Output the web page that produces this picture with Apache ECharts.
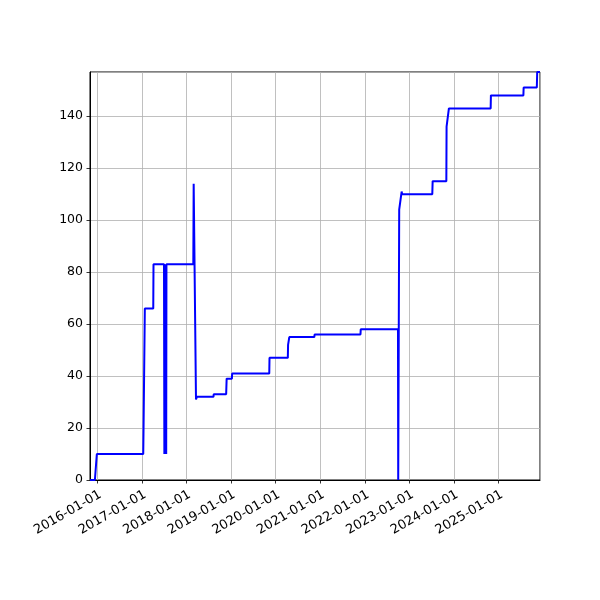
<!DOCTYPE html>
<html>
<head>
<meta charset="utf-8">
<script src="https://cdn.jsdelivr.net/npm/echarts@6/dist/echarts.min.js"></script>
<style>html,body{margin:0;padding:0;background:#fff;}#c{width:600px;height:600px;}</style>
</head>
<body>
<div id="c"></div>
<script>
const dates = [
  '2015-11-03','2015-12-13','2015-12-29',
  '2017-01-12','2017-01-14','2017-01-25',
  '2017-04-04','2017-04-06',
  '2017-07-01','2017-07-04','2017-07-08','2017-07-12','2017-07-16','2017-07-19','2017-07-21',
  '2018-02-26','2018-03-01','2018-03-06','2018-03-20','2018-03-27',
  '2018-08-10','2018-08-12','2018-11-22','2018-11-26',
  '2019-01-08','2019-01-10','2019-11-10','2019-11-12',
  '2020-04-10','2020-04-12','2020-04-22',
  '2020-11-13','2020-11-15','2021-11-26','2021-11-28',
  '2022-09-29','2022-10-01','2022-10-06','2022-10-09','2022-10-25','2022-10-29','2022-11-02',
  '2023-07-07','2023-07-10','2023-10-30','2023-11-01','2023-11-04','2023-11-20',
  '2024-10-27','2024-10-29','2025-07-22','2025-07-24',
  '2025-11-09','2025-11-12','2025-12-05'
];
const values = [
  0, 0, 10,
  10, 18, 66,
  66, 83,
  83, 10, 83, 10, 83, 10, 83,
  83, 114, 114, 31, 32,
  32, 33, 33, 39,
  39, 41, 41, 47,
  47, 52, 55,
  55, 56, 56, 58,
  58, 0, 0, 104, 104, 111, 110,
  110, 115, 115, 136, 136, 143,
  143, 148, 148, 151,
  151, 157, 157
];
const yTicks = [0, 20, 40, 60, 80, 100, 120, 140];
const xMin = '2015-11-03';
const xMax = '2025-12-05';
const yMax = 157;

const chart = echarts.init(document.getElementById('c'), null, {renderer: 'canvas'});
const font = 'DejaVu Sans';
chart.setOption({
  animation: false,
  backgroundColor: '#fff',
  grid: {left: 90, right: 60, top: 72, bottom: 120, show: true, borderColor: '#000', borderWidth: 1, backgroundColor: '#fff'},
  xAxis: {
    type: 'time',
    min: xMin,
    max: xMax,
    minInterval: 365 * 24 * 3600 * 1000,
    maxInterval: 366 * 24 * 3600 * 1000,
    axisLine: {show: true, lineStyle: {color: '#000', width: 1}},
    axisTick: {show: true, length: 3.5, lineStyle: {color: '#000', width: 0.8}},
    splitLine: {show: true, lineStyle: {color: '#b0b0b0', width: 0.8}},
    minorTick: {show: false},
    axisLabel: {
      rotate: 30, margin: 8, color: '#000', fontFamily: font, fontSize: 13,
      verticalAlign: 'top', align: 'right',
      formatter: function (v) { return echarts.time.format(v, '{yyyy}-{MM}-{dd}', false); }
    }
  },
  yAxis: {
    type: 'value',
    min: 0,
    max: yMax,
    interval: 20,
    axisLine: {show: true, lineStyle: {color: '#000', width: 1}},
    axisTick: {show: true, length: 3.5, lineStyle: {color: '#000', width: 0.8}},
    splitLine: {show: true, lineStyle: {color: '#b0b0b0', width: 0.8}},
    axisLabel: {
      margin: 7, color: '#000', fontFamily: font, fontSize: 12.5, showMaxLabel: false,
      formatter: function (v) { return yTicks.indexOf(v) >= 0 ? String(v) : ''; }
    }
  },
  series: [{
    type: 'line',
    data: dates.map((d, i) => [d, values[i]]),
    showSymbol: false,
    symbol: 'none',
    lineStyle: {color: '#0000ff', width: 2},
    clip: true
  }]
});
</script>
</body>
</html>
